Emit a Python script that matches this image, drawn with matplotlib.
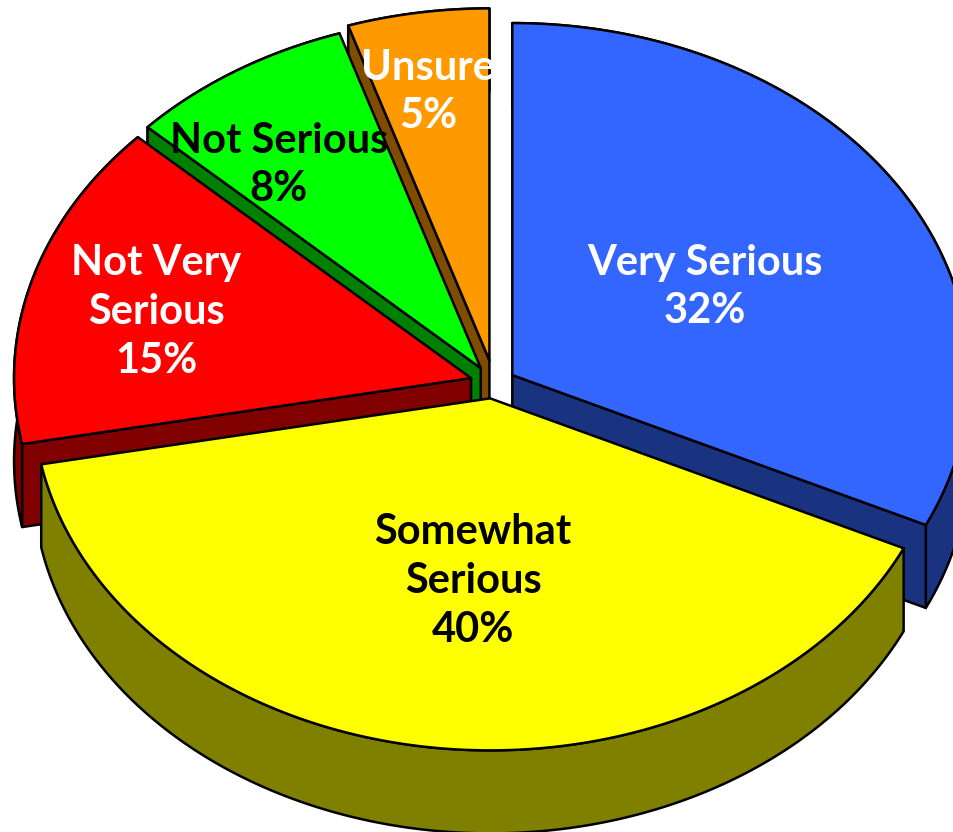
import numpy as np
import matplotlib
matplotlib.use("Agg")
import matplotlib.pyplot as plt

# ---- data ----
categories = ["Very Serious", "Somewhat Serious", "Not Very Serious", "Not Serious", "Unsure"]
values = [32, 40, 15, 8, 5]
label_texts = ["Very Serious\n32%", "Somewhat\nSerious\n40%", "Not Very\nSerious\n15%", "Not Serious\n8%", "Unsure\n5%"]

# ---- style / layout ----
top_colors = ["#3366FF", "#FFFF00", "#FF0000", "#00FF00", "#FF9900"]
side_colors = ["#1A3380", "#808000", "#800000", "#008000", "#804D00"]
text_colors = ["white", "black", "white", "black", "white"]
explode_x = [0.05, 0.05, 0.05, 0.05, 0.05]
explode_y = [0.042, 0.044, 0.05, 0.05, 0.065]
label_pos = [(705, 287), (473, 581), (156, 312), (279, 165), (428, 92)]
draw_order = [4, 3, 2, 0, 1]
CX, CY, A, B, DEPTH = 493.0, 383.0, 457.0, 352.0, 83.0
LW = 1.8

fig = plt.figure(figsize=(9.54, 8.32), dpi=100)
ax = fig.add_axes([0, 0, 1, 1])
ax.set_xlim(0, 954)
ax.set_ylim(832, 0)
ax.axis("off")

fractions = np.array(values, dtype=float) / np.sum(values)
edges = np.concatenate([[0], np.cumsum(fractions)]) * 2 * np.pi


def rim(cx, cy, t):
    return cx + A * np.sin(t), cy - B * np.cos(t)


for i in draw_order:
    t0, t1 = edges[i], edges[i + 1]
    mid = (t0 + t1) / 2
    cx = CX + A * np.sin(mid) * explode_x[i]
    cy = CY - B * np.cos(mid) * explode_y[i]
    ts = np.linspace(t0, t1, 240)
    rx, ry = rim(cx, cy, ts)
    kw = dict(edgecolor="black", linewidth=LW, joinstyle="round")
    # outer wall
    ax.fill(np.concatenate([rx, rx[::-1]]),
            np.concatenate([ry, ry[::-1] + DEPTH]),
            facecolor=side_colors[i], **kw)
    # cut faces turned towards the viewer
    for t, visible in ((t0, np.sin(t0) < -1e-6), (t1, np.sin(t1) > 1e-6)):
        if visible:
            ex, ey = rim(cx, cy, t)
            ax.fill([cx, ex, ex, cx], [cy, ey, ey + DEPTH, cy + DEPTH],
                    facecolor=side_colors[i], **kw)
    # top face
    ax.fill(np.concatenate([[cx], rx]), np.concatenate([[cy], ry]),
            facecolor=top_colors[i], **kw)

for i, txt in enumerate(label_texts):
    ax.text(label_pos[i][0], label_pos[i][1], txt, color=text_colors[i],
            ha="center", va="center", fontsize=30, fontweight="bold",
            family=["Lato", "DejaVu Sans"], linespacing=1.35)

fig.savefig("out.png", dpi=100, facecolor="white")
